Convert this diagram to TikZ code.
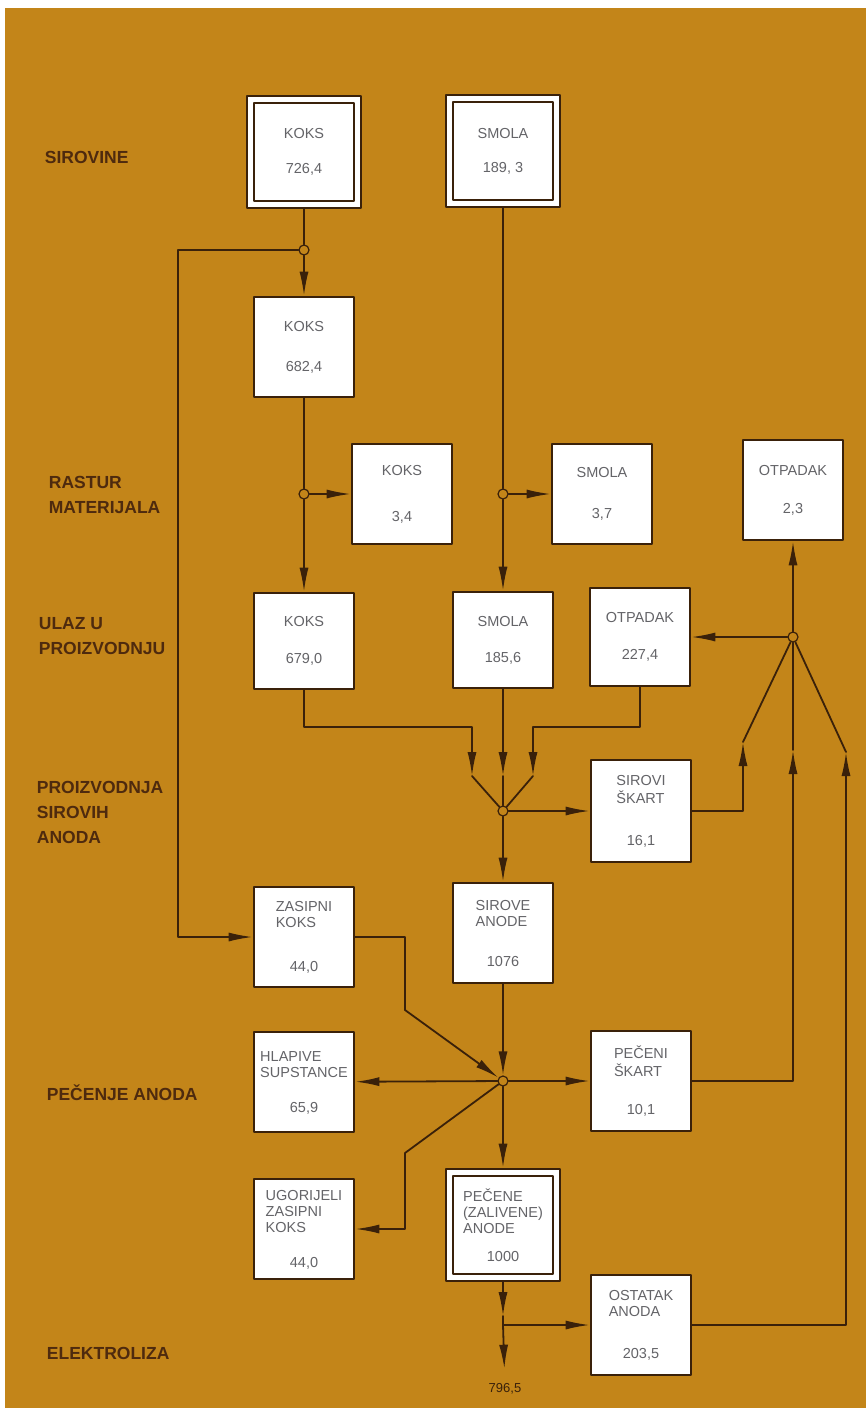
\documentclass[tikz,border=0pt]{standalone}
\usepackage{fontspec}
\setmainfont{Liberation Sans}
\usetikzlibrary{arrows.meta}
\definecolor{ochre}{RGB}{195,133,25}
\definecolor{ink}{RGB}{58,33,10}
\definecolor{boxtext}{RGB}{100,100,104}
\definecolor{labtext}{RGB}{78,42,14}
\newcommand{\nm}[1]{\begin{tabular}{@{}l@{}}#1\end{tabular}}
\begin{document}
\begin{tikzpicture}[x=1pt, y=-1pt, line cap=round, line join=round, >={Latex[length=24pt,width=9pt]},
	font=\fontsize{14.5}{16}\selectfont, color=ink, line width=1.8pt,
	box/.style={draw=ink, fill=white, line width=2.6pt, minimum width=100pt, minimum height=100pt, inner sep=2pt, align=center, text=boxtext},
	dbox/.style={box, minimum width=114pt, minimum height=112pt,
		path picture={\draw[ink, line width=1.8pt] ([shift={(7pt,-7pt)}]path picture bounding box.north west) rectangle ([shift={(-7pt,7pt)}]path picture bounding box.south east);}},
	jn/.style={circle, draw=ink, fill=ochre, line width=1.2pt, inner sep=0pt, minimum size=10pt},
	lab/.style={anchor=west, align=left, inner sep=0pt, text=labtext, font=\fontsize{17.5}{25}\selectfont\bfseries}]
	\useasboundingbox (0,0) rectangle (866,1408);
	\fill[white] (0,0) rectangle (866,1408);
	\fill[ochre] (5,8) rectangle (866,1408);
	
	\node[lab] (l1) at (44,157) {SIROVINE};
	\node[lab] (l2) at (48,495) {RASTUR\\MATERIJALA};
	\node[lab] (l3) at (38,636) {ULAZ U\\PROIZVODNJU};
	\node[lab] (l4) at (36,812) {PROIZVODNJA\\SIROVIH\\ANODA};
	\node[lab] (l5) at (46,1093) {PEČENJE ANODA};
	\node[lab] (l6) at (46,1353) {ELEKTROLIZA};
	
	\node[dbox] (k0) at (304,152) {KOKS\\[19pt]726,4};
	\node[dbox] (s0) at (503,151) {SMOLA\\[18pt]189, 3};
	\node[box] (k1) at (304,347) {KOKS\\[24pt]682,4};
	\node[box] (k2) at (402,494) {KOKS\\[30pt]3,4};
	\node[box] (s2) at (602,494) {SMOLA\\[25pt]3,7};
	\node[box] (o2) at (793,490) {OTPADAK\\[22pt]2,3};
	\node[box, minimum height=96pt] (k3) at (304,641) {KOKS\\[21pt]679,0};
	\node[box, minimum height=96pt] (s3) at (503,640) {SMOLA\\[20pt]185,6};
	\node[box, minimum height=98pt] (o3) at (640,637) {OTPADAK\\[21pt]227,4};
	\node[box, minimum height=102pt] (sk) at (641,811) {\nm{SIROVI\\ŠKART}\\[26pt]16,1};
	\node[box] (zk) at (304,937) {\nm{ZASIPNI\\KOKS}\\[28pt]44,0};
	\node[box] (sa) at (503,933) {\nm{SIROVE\\ANODE}\\[24pt]1076};
	\node[box] (hs) at (304,1082) {\nm{HLAPIVE\\SUPSTANCE}\\[19pt]65,9};
	\node[box] (ps) at (641,1081) {\nm{PEČENI\\ŠKART}\\[22pt]10,1};
	\node[box] (uz) at (304,1229) {\nm{UGORIJELI\\ZASIPNI\\KOKS}\\[19pt]44,0};
	\node[dbox] (pa) at (503,1225) {\nm{PEČENE\\(ZALIVENE)\\ANODE}\\[12pt]1000};
	\node[box] (oa) at (641,1325) {\nm{OSTATAK\\ANODA}\\[26pt]203,5};
	\node[inner sep=2pt, font=\fontsize{13}{15}\selectfont] (res) at (505,1389) {796,5};
	
	\node[jn] (j0) at (304,250) {};
	\node[jn] (jk) at (304,494) {};
	\node[jn] (js) at (503,494) {};
	\node[jn] (jo) at (793,637) {};
	\node[jn] (jm) at (503,811) {};
	\node[jn] (jp) at (503,1081) {};
	
	\coordinate (c1) at (178,250);
	\coordinate (m1a) at (472,727);
	\coordinate (m1) at (472,776);
	\coordinate (m2) at (503,776);
	\coordinate (m3a) at (533,727);
	\coordinate (m3) at (533,776);
	\coordinate (u1) at (743,742);
	\coordinate (u2) at (793,750);
	\coordinate (u3) at (846,752);
	\coordinate (z1) at (405,1010);
	\coordinate (g1) at (405,1153);
	\coordinate (a1) at (503,1316);
	\coordinate (b1) at (503,1325);
	
	\draw (k0) -- (j0);
	\draw[->] (j0) -- (k1);
	\draw[->] (j0) -- (c1) |- (zk);
	\draw (k1) -- (jk);
	\draw[->] (jk) -- (k2);
	\draw[->] (jk) -- (k3);
	\draw (s0) -- (js);
	\draw[->] (js) -- (s2);
	\draw[->] (js) -- (s3);
	\draw[->] (jo) -- (o2);
	\draw[->] (jo) -- (o3);
	\draw[->] (k3) |- (m1a) -- (m1);
	\draw (m1) -- (jm);
	\draw[->] (s3) -- (m2);
	\draw (m2) -- (jm);
	\draw[->] (o3) |- (m3a) -- (m3);
	\draw (m3) -- (jm);
	\draw[->] (jm) -- (sk);
	\draw[->] (jm) -- (sa);
	\draw[->] (sk) -| (u1);
	\draw (u1) -- (jo);
	\draw[->] (ps) -| (u2);
	\draw (u2) -- (jo);
	\draw[->] (oa) -| (u3);
	\draw (u3) -- (jo);
	\draw[->] (zk) -| (z1) -- (jp);
	\draw[->] (sa) -- (jp);
	\draw[->] (jp) -- (hs);
	\draw[->] (jp) -- (ps);
	\draw[->] (jp) -- (pa);
	\draw[->] (jp) -- (g1) |- (uz);
	\draw[->] (pa) -- (a1);
	\draw (a1) -- (b1);
	\draw[->] (b1) -- (oa);
	\draw[->, shorten >=12pt] (b1) -- (res);
\end{tikzpicture}
\end{document}
